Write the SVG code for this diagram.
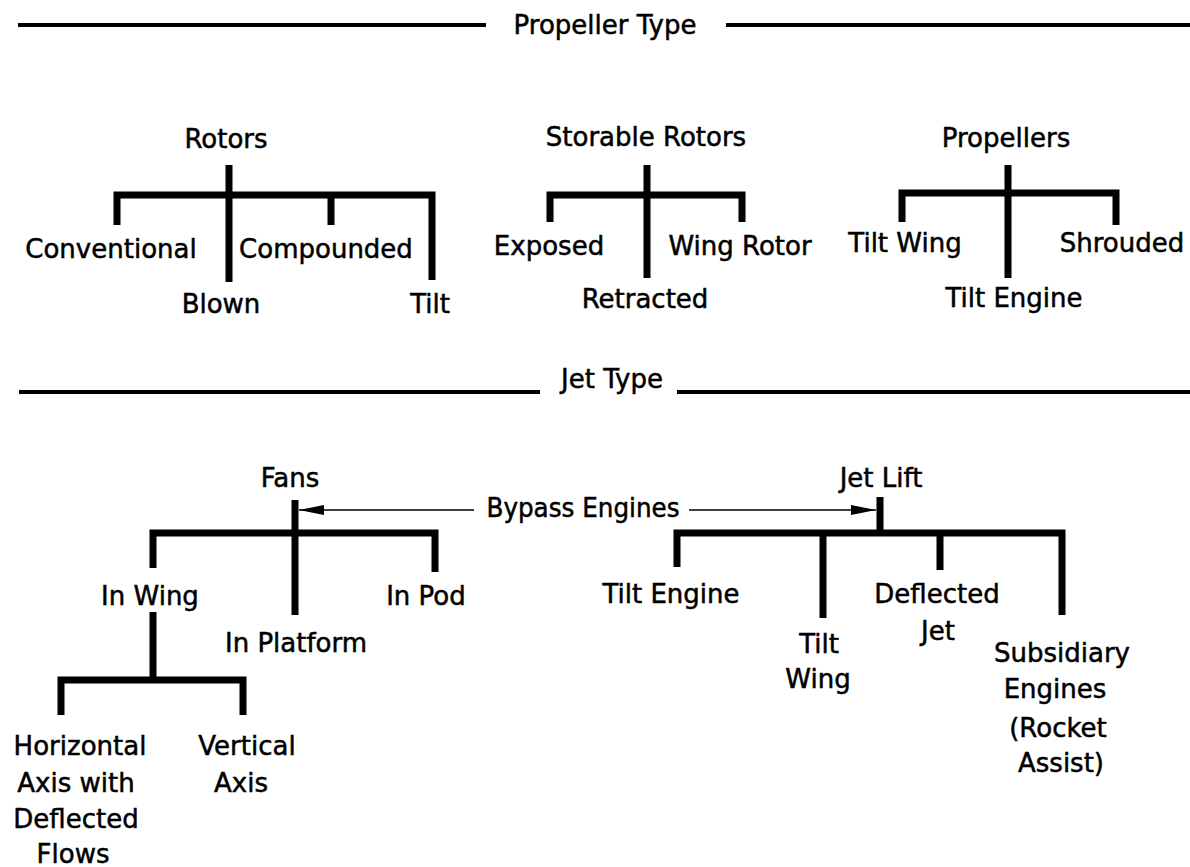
<svg xmlns="http://www.w3.org/2000/svg" width="1190" height="867" viewBox="0 0 1190 867">
<defs>
<style>
text{font-family:"DejaVu Sans","Liberation Sans",sans-serif;font-size:26px;fill:#000;stroke:#000;stroke-width:0.5;text-anchor:middle}
.rule{stroke:#000;stroke-width:4;fill:none}
.br{stroke:#000;stroke-width:7;fill:none;stroke-linejoin:miter;stroke-linecap:butt}
.arr{stroke:#000;stroke-width:1.5;fill:none}
</style>
<marker id="ah" markerUnits="userSpaceOnUse" markerWidth="26" markerHeight="12" refX="25" refY="6" orient="auto">
<path d="M0 1 L25 6 L0 11 Z" fill="#000"/>
</marker>
</defs>
<rect width="1190" height="867" fill="#fff"/>

<g id="section-lines">
<path class="rule" d="M18 25 H486 M726 25 H1190 M19 392 H540 M677 392 H1190"/>
</g>

<g id="connectors">
<path class="br" d="M229 165 V282 M117 225 V195 H432 V280 M331 195 V225"/>
<path class="br" d="M647 165 V278 M550 222 V195 H742 V222"/>
<path class="br" d="M1008 165 V278 M902 222 V193 H1116 V225"/>
<path class="br" d="M295 500 V615 M153 568 V533 H435 V572 M153 612 V680 M61 715 V680 H243 V715"/>
<path class="br" d="M880 497 V533 M677 567 V533 H1062 V615 M823 533 V618 M940 533 V570"/>
<path class="arr" d="M474 510 H299" marker-end="url(#ah)"/>
<path class="arr" d="M689 510 H876" marker-end="url(#ah)"/>
</g>

<g id="propeller-type"><text x="605" y="34">Propeller Type</text></g>
<g id="jet-type"><text x="612" y="388">Jet Type</text></g>

<g id="rotors"><text x="226" y="148">Rotors</text></g>
<g id="conventional"><text x="111" y="258">Conventional</text></g>
<g id="compounded"><text x="326" y="258">Compounded</text></g>
<g id="blown"><text x="221" y="313">Blown</text></g>
<g id="tilt"><text x="430" y="313">Tilt</text></g>

<g id="storable-rotors"><text x="646" y="146">Storable Rotors</text></g>
<g id="exposed"><text x="549" y="255">Exposed</text></g>
<g id="wing-rotor"><text x="740" y="255">Wing Rotor</text></g>
<g id="retracted"><text x="645" y="308">Retracted</text></g>

<g id="propellers"><text x="1006" y="147">Propellers</text></g>
<g id="tilt-wing-prop"><text x="905" y="252">Tilt Wing</text></g>
<g id="shrouded"><text x="1122" y="252">Shrouded</text></g>
<g id="tilt-engine-prop"><text x="1014" y="307">Tilt Engine</text></g>

<g id="fans"><text x="290" y="487">Fans</text></g>
<g id="bypass-engines"><text x="583" y="517" textLength="193" lengthAdjust="spacingAndGlyphs">Bypass Engines</text></g>
<g id="in-wing"><text x="150" y="605">In Wing</text></g>
<g id="in-pod"><text x="426" y="605">In Pod</text></g>
<g id="in-platform"><text x="296" y="652">In Platform</text></g>
<g id="horizontal-axis"><text x="80" y="755">Horizontal</text><text x="76" y="792">Axis with</text><text x="76" y="828">Deflected</text><text x="73" y="863">Flows</text></g>
<g id="vertical-axis"><text x="247" y="755">Vertical</text><text x="241" y="792">Axis</text></g>

<g id="jet-lift"><text x="881" y="487">Jet Lift</text></g>
<g id="tilt-engine-jet"><text x="671" y="603">Tilt Engine</text></g>
<g id="tilt-wing-jet"><text x="819" y="653">Tilt</text><text x="818" y="688">Wing</text></g>
<g id="deflected-jet"><text x="937" y="603">Deflected</text><text x="938" y="640">Jet</text></g>
<g id="subsidiary-engines"><text x="1062" y="662">Subsidiary</text><text x="1055" y="698">Engines</text><text x="1058" y="737">(Rocket</text><text x="1061" y="772">Assist)</text></g>
</svg>
